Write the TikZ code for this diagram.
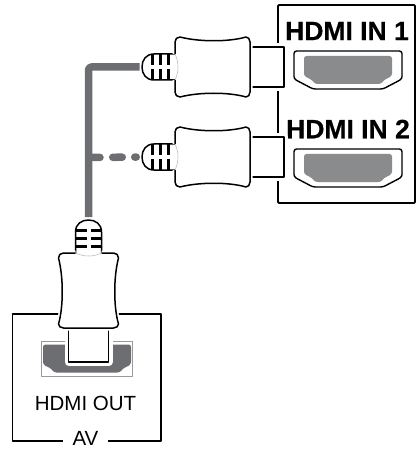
\documentclass[tikz,border=0pt]{standalone}
\usepackage{fontspec}
\setmainfont{Liberation Sans}[BoldFeatures={FakeBold=0.5}]
\usetikzlibrary{positioning, calc}
\definecolor{cablegray}{HTML}{6D6E71}
\definecolor{slotgray}{HTML}{898B8D}
\tikzset{
  pics/hdmislot/.style={code={
    \fill [#1, rounded corners=2.5pt] (-44,-14) -- (44,-14) -- (44,6) -- (40,8) -- (36,10) -- (33,14) -- (-33,14) -- (-36,10) -- (-40,8) -- (-44,6) -- cycle;
  }},
  pics/hdmiplug/.style={code={
    \coordinate (head) at (-142,0);
    % halo, then tip
    \draw [white, line width=8pt] (-34,-20) rectangle (0,20);
    \draw [plugline, fill=white] (-34,-20) rectangle (0,20);
    % strain relief
    \draw [plugline, fill=white] (-108,-13) -- (-130,-13) .. controls (-138,-13) and (-142,-7) .. (-142,0) .. controls (-142,7) and (-138,13) .. (-130,13) -- (-108,13);
    \foreach \barx in {-132,-124,-116} {
      \draw [line width=3pt] (\barx,-13) -- (\barx,-2);
      \draw [line width=3pt] (\barx,2) -- (\barx,13);
    }
    % body
    \draw [white, line width=5pt] (-109,-13) -- (-109,-26) -- (-104,-30) .. controls (-85,-25) and (-55,-25) .. (-37,-30) -- (-34,-26) -- (-34,26) -- (-37,30) .. controls (-55,25) and (-85,25) .. (-104,30) -- (-109,26) -- (-109,13);
    \draw [plugline, fill=white] (-109,-13) -- (-109,-25) .. controls (-109,-28) and (-107,-30) .. (-104,-30) .. controls (-85,-25) and (-55,-25) .. (-38,-30) .. controls (-36,-30) and (-34,-28) .. (-34,-25) -- (-34,25) .. controls (-34,28) and (-36,30) .. (-38,30) .. controls (-55,25) and (-85,25) .. (-104,30) .. controls (-107,30) and (-109,28) .. (-109,25) -- (-109,13);
    \draw [gray!50, line width=0.6pt] (-109,-13) .. controls (-105,-5) and (-105,5) .. (-109,13);
  }},
  pics/hdmiport/.style={code={
    \draw [line width=1.4pt, fill=white, rounded corners=2.5pt] (-54,-19) -- (54,-19) -- (54,9) -- (35,19) -- (-35,19) -- (-54,9) -- cycle;
    \pic {hdmislot=slotgray};
  }}
}

\begin{document}
\begin{tikzpicture}[x=1pt, y=-1pt, line join=round]
    \tikzstyle{plugline} = [line width=1.5pt]
    \tikzstyle{cable} = [cablegray, line width=7.5pt]
    \tikzstyle{bigtext} = [font=\fontsize{26.5}{27}\selectfont\bfseries, inner sep=0pt]
    \tikzstyle{smalltext} = [font=\fontsize{20.5}{21}\selectfont, inner sep=0pt]
    \useasboundingbox (0,0) rectangle (416,449);

    % Monitor panel
    \draw [line width=1.8pt, rounded corners=1pt] (278,5) rectangle (415,203);
    \node [bigtext] (label_in1) at (347,31) {HDMI IN 1};
    \node [bigtext] (label_in2) at (348,129) {HDMI IN 2};
    \pic at (348,70) {hdmiport};
    \pic at (348,168) {hdmiport};

    % AV box
    \draw [line width=1.2pt] (12.5,314) rectangle (161,441);
    \node [smalltext] (label_out) at (85.5,403.5) {HDMI OUT};
    \node [smalltext, fill=white, inner xsep=10pt, inner ysep=1pt] (label_av) at (85.5,438.5) {AV};
    \draw [gray!80, line width=0.7pt, fill=white] (41,341) rectangle (132,376);
    \pic at (87,358.5) {hdmislot={cablegray}};

    % Plugs
    \pic (plug_in1) at (284,67) {hdmiplug};
    \pic (plug_in2) at (284,157) {hdmiplug};
    \pic (plug_out) [rotate=-90] at (88.5,362) {hdmiplug};

    % Cables
    \coordinate (cable_branch) at (92,157.5);
    \draw [cable, rounded corners=3pt, shorten <=3pt, shorten >=2.5pt] (plug_outhead) |- (plug_in1head);
    \draw [cable, line cap=round, dash pattern=on 8pt off 12.75pt on 9.5pt off 12.5pt on 20pt off 20pt, shorten >=5.75pt] (cable_branch) -- (plug_in2head);
\end{tikzpicture}
\end{document}
